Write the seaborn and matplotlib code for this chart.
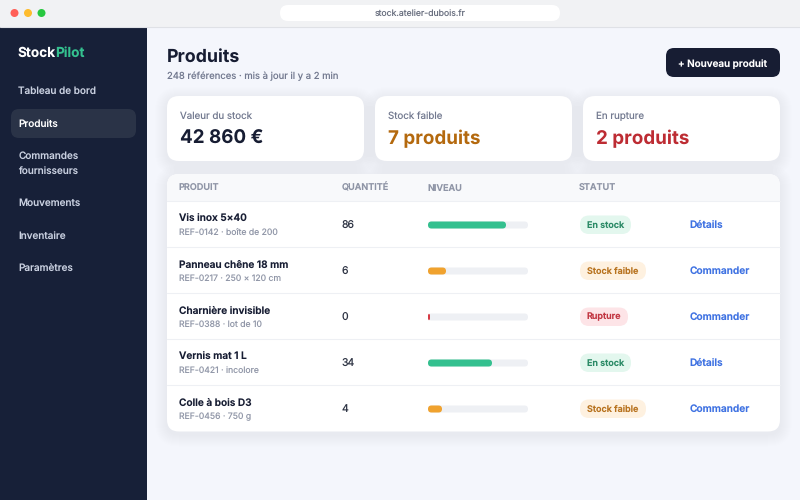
import seaborn as sns
import matplotlib.pyplot as plt
import pandas as pd
from matplotlib.patches import FancyBboxPatch, Rectangle, Circle

sns.set_theme(style="white")
plt.rcParams["font.family"] = ["Inter", "DejaVu Sans"]
plt.rcParams["text.hinting"] = "no_hinting"
plt.rcParams["text.hinting_factor"] = 1

# Data
produits = ["Vis inox 5×40", "Panneau chêne 18 mm", "Charnière invisible", "Vernis mat 1 L", "Colle à bois D3"]
references = ["REF-0142 · boîte de 200", "REF-0217 · 250 × 120 cm", "REF-0388 · lot de 10",
              "REF-0421 · incolore", "REF-0456 · 750 g"]
quantites = [86, 6, 0, 34, 4]
niveaux = [78, 18, 2, 64, 14]
statuts = ["En stock", "Stock faible", "Rupture", "En stock", "Stock faible"]
actions = ["Détails", "Commander", "Commander", "Détails", "Commander"]
menu = ["Tableau de bord", "Produits", "Commandes\nfournisseurs", "Mouvements", "Inventaire", "Paramètres"]
kpi_labels = ["Valeur du stock", "Stock faible", "En rupture"]
kpi_values = ["42 860 €", "7 produits", "2 produits"]
colonnes = ["PRODUIT", "QUANTITÉ", "NIVEAU", "STATUT"]

bar_colors = {"En stock": "#34c08f", "Stock faible": "#f0a22e", "Rupture": "#d63a44"}
pill_colors = {"En stock": "#e3f7ee", "Stock faible": "#fef1e0", "Rupture": "#fde4e7"}
pill_text = {"En stock": "#2b8a66", "Stock faible": "#b8731f", "Rupture": "#c23642"}
pill_right = {"En stock": 631, "Stock faible": 646, "Rupture": 628}

NAVY = "#172038"
INK = "#171d33"


def pt(px):
    return px * 0.72


def rounded(ax, x0, y0, x1, y1, r, color, z=1, alpha=1.0):
    box = FancyBboxPatch((x0, y0), x1 - x0, y1 - y0, boxstyle=f"round,pad=0,rounding_size={r}",
                         fc=color, ec="none", alpha=alpha, zorder=z)
    ax.add_patch(box)


def shadow(ax, x0, y0, x1, y1, r):
    # soft card shadow, just stacked transparent boxes
    for i in range(12, 0, -1):
        rounded(ax, x0 - i, y0 - i + 3, x1 + i, y1 + i + 3, r + i, "#1a2340", z=1.5, alpha=0.003)


f = plt.figure(figsize=(8, 5), dpi=100, facecolor="#f4f6fc")
ax = f.add_axes([0, 0, 1, 1])
ax.set_xlim(0, 800)
ax.set_ylim(500, 0)
ax.axis("off")

# Window bar
ax.add_patch(Rectangle((0, 0), 800, 26.5, fc="#f1f2f4", ec="none", zorder=1))
ax.plot([0, 800], [26.5, 26.5], color="#dfe1e6", lw=0.8, zorder=2)
for cx, c in zip([14.5, 28, 41.5], ["#ff5f57", "#febc2e", "#28c840"]):
    ax.add_patch(Circle((cx, 13), 4, fc=c, ec="none", zorder=2))
rounded(ax, 280, 5, 560, 21, 8, "white", z=2)
ax.text(420, 17.3, "stock.atelier-dubois.fr", ha="center", va="baseline", fontsize=pt(8.7), color="#6a7080", zorder=3)

# Sidebar
ax.add_patch(Rectangle((0, 27), 146.5, 473, fc=NAVY, ec="none", zorder=1))
t = ax.text(17.5, 56.5, "Stock", fontsize=pt(13.6), fontweight="bold", color="white", va="baseline", zorder=3)
box = t.get_window_extent(f.canvas.get_renderer())
x_pilot = ax.transData.inverted().transform((box.x1, 0))[0]
ax.text(x_pilot, 56.5, "Pilot", fontsize=pt(13.6), fontweight="bold", color="#34c08f", va="baseline", zorder=3)
rounded(ax, 11, 109, 136, 138, 8, "#2a3347", z=2)
nav_base = [94, 127, 159, 206, 239, 271.6]
for label, y in zip(menu, nav_base):
    active = label == "Produits"
    for k, part in enumerate(label.split("\n")):
        ax.text(18.5, y + k * 15.3, part, fontsize=pt(10), fontweight="medium", va="baseline", zorder=3,
                color="white" if active else "#c9d0e0")

# Page header
ax.text(167, 62, "Produits", fontsize=pt(17.8), fontweight="bold", color=INK, va="baseline", zorder=3)
ax.text(167, 79.5, "248 références · mis à jour il y a 2 min", fontsize=pt(9.5), color="#737a90", va="baseline", zorder=3)
rounded(ax, 666, 48, 780, 77, 8, INK, z=2)
ax.text(678.5, 66.5, "+ Nouveau produit", fontsize=pt(9.9), fontweight="semibold", color="white", va="baseline", zorder=3)

# KPI cards
kpi_x = [167, 375, 583]
kpi_colors = [INK, "#b4690e", "#bd2c33"]
for x, lab, val, col in zip(kpi_x, kpi_labels, kpi_values, kpi_colors):
    shadow(ax, x, 96, x + 197, 161, 12)
    rounded(ax, x, 96, x + 197, 161, 12, "white", z=2)
    ax.text(x + 13.5, 119, lab, fontsize=pt(9.75), color="#737a90", va="baseline", zorder=3)
    ax.text(x + 13.5, 144, val, fontsize=pt(18.8), fontweight="bold", color=col, va="baseline", zorder=3)

# Table card
shadow(ax, 167, 174, 780, 431.5, 12)
rounded(ax, 167, 174, 780, 431.5, 12, "white", z=2)
hdr = FancyBboxPatch((167, 174), 613, 40, boxstyle="round,pad=0,rounding_size=12", fc="#f8f9fb", ec="none", zorder=2.1)
ax.add_patch(hdr)
ax.add_patch(Rectangle((167, 201.5), 613, 14, fc="white", ec="none", zorder=2.2))
for x, col in zip([178.7, 341.7, 427.7, 578.7], colonnes):
    ax.text(x, 190.6, col, fontsize=pt(9.1), fontweight="semibold", color="#8f95a6", va="baseline", zorder=3)
for i in range(5):
    y = 201.3 + 46 * i
    ax.plot([167, 780], [y, y], color="#eef0f4", lw=0.8, zorder=2.5)

for i in range(5):
    dy = 46 * i
    ax.text(178.7, 222.2 + dy, produits[i], fontsize=pt(10.1), fontweight="semibold", color=INK, va="baseline", zorder=3)
    ax.text(178.7, 235.4 + dy, references[i], fontsize=pt(8.65), color="#9197a8", va="baseline", zorder=3)
    ax.text(341.7, 228.3 + dy, str(quantites[i]), fontsize=pt(10.5), color="#2f3545", va="baseline", zorder=3)
    rounded(ax, 580, 215.5 + dy, pill_right[statuts[i]], 234 + dy, 9, pill_colors[statuts[i]], z=2.6)
    ax.text(586.7, 227.5 + dy, statuts[i], fontsize=pt(9), fontweight="semibold",
            color=pill_text[statuts[i]], va="baseline", zorder=3)
    ax.text(689.3, 228.3 + dy, actions[i], fontsize=pt(10.15), fontweight="semibold", color="#3f72e2", va="baseline", zorder=3)

# Level bars, each px is one unit on x, one row is 46 px on y
df = pd.DataFrame({"produit": produits, "niveau": niveaux, "statut": statuts, "piste": [100] * 5})
bx = f.add_axes([428 / 800, (500 - 432) / 500, 100 / 800, 230 / 500])
bx.patch.set_alpha(0)
sns.barplot(data=df, y="produit", x="piste", color="#eef0f4", width=7 / 46, saturation=1, ax=bx)
sns.barplot(data=df, y="produit", x="niveau", hue="statut", palette=bar_colors, dodge=False,
            width=7 / 46, saturation=1, legend=False, ax=bx)
bx.set_xlim(0, 100)
bx.set_ylim(4.5, -0.5)
bx.axis("off")

# seaborn only gives square bars, swap in rounded ones
for p in list(bx.patches):
    if p.get_width() <= 0:
        p.remove()
        continue
    w = p.get_width()
    r = FancyBboxPatch((p.get_x(), p.get_y()), w, p.get_height(), boxstyle=f"round,pad=0,rounding_size={min(3.5, w)}",
                       mutation_aspect=1 / 46, fc=p.get_facecolor(), ec="none", zorder=3 if w < 100 else 2)
    p.remove()
    bx.add_patch(r)

f.savefig("out.png", dpi=100, facecolor=f.get_facecolor())
